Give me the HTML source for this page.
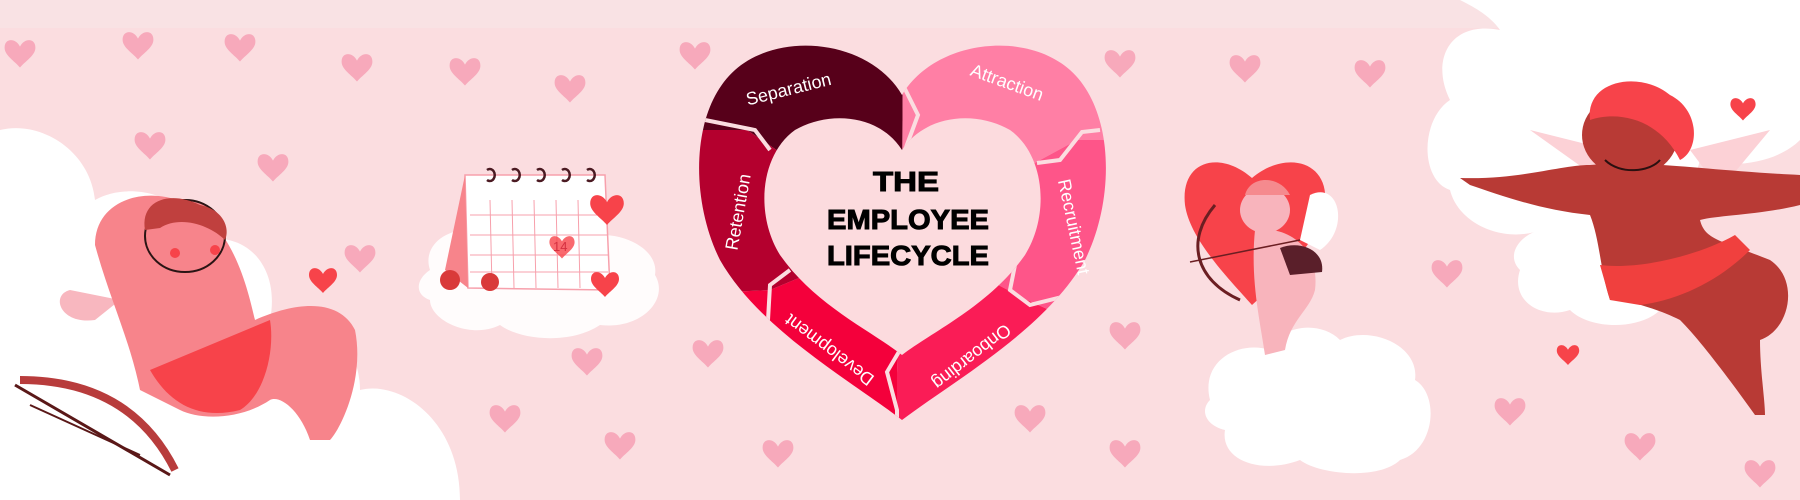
<!DOCTYPE html>
<html><head><meta charset="utf-8"><style>
html,body{margin:0;padding:0;width:1800px;height:500px;overflow:hidden;background:#fbdde0}
svg{display:block}
</style></head><body>
<svg width="1800" height="500" viewBox="0 0 1800 500" xmlns="http://www.w3.org/2000/svg">
<defs>
<path id="h" d="M0,6 C-4,-2 -14,-2 -14,7 C-14,14 -5,19 0,25 C5,19 14,14 14,7 C14,-2 4,-2 0,6Z"/>
<clipPath id="ring"><path clip-rule="evenodd" fill-rule="evenodd" d="M902,95 C870,40 780,30 735,70 C690,110 690,200 720,260 C760,330 850,380 902,420 C955,380 1045,330 1085,260 C1115,200 1115,110 1070,70 C1025,30 935,40 902,95 Z M902,150 C880,115 830,110 795,130 C760,155 755,215 780,255 C815,305 870,330 902,355 C935,330 990,305 1025,255 C1050,215 1045,155 1010,130 C975,110 925,115 902,150 Z"/></clipPath>
</defs>
<rect width="1800" height="500" fill="#fbdde0"/>
<rect x="0" y="0" width="1800" height="28" fill="#f9e2e4"/>
<g fill="#f7a9bb">
<use href="#h" transform="translate(20,40) scale(1.1)"/>
<use href="#h" transform="translate(138,32) scale(1.1)"/>
<use href="#h" transform="translate(240,34) scale(1.1)"/>
<use href="#h" transform="translate(357,54) scale(1.1)"/>
<use href="#h" transform="translate(465,58) scale(1.1)"/>
<use href="#h" transform="translate(570,75) scale(1.1)"/>
<use href="#h" transform="translate(695,42) scale(1.1)"/>
<use href="#h" transform="translate(150,132) scale(1.1)"/>
<use href="#h" transform="translate(273,154) scale(1.1)"/>
<use href="#h" transform="translate(360,245) scale(1.1)"/>
<use href="#h" transform="translate(1120,50) scale(1.1)"/>
<use href="#h" transform="translate(1245,55) scale(1.1)"/>
<use href="#h" transform="translate(1370,60) scale(1.1)"/>
<use href="#h" transform="translate(1125,322) scale(1.1)"/>
<use href="#h" transform="translate(1447,260) scale(1.1)"/>
<use href="#h" transform="translate(505,405) scale(1.1)"/>
<use href="#h" transform="translate(620,432) scale(1.1)"/>
<use href="#h" transform="translate(587,348) scale(1.1)"/>
<use href="#h" transform="translate(708,340) scale(1.1)"/>
<use href="#h" transform="translate(778,440) scale(1.1)"/>
<use href="#h" transform="translate(1030,405) scale(1.1)"/>
<use href="#h" transform="translate(1125,440) scale(1.1)"/>
<use href="#h" transform="translate(1510,398) scale(1.1)"/>
<use href="#h" transform="translate(1640,433) scale(1.1)"/>
<use href="#h" transform="translate(1760,460) scale(1.1)"/>
</g>
<g fill="#ffffff">
<path d="M0,130 C40,120 90,150 95,200 C130,180 190,195 200,240 C250,230 280,270 270,320 C320,310 360,340 360,390 C400,380 460,420 460,500 L0,500Z"/>
<path d="M1460,0 L1800,0 L1800,140 C1780,160 1740,170 1700,160 C1680,240 1600,250 1560,220 C1520,250 1460,230 1450,190 C1420,180 1420,120 1450,100 C1430,60 1450,20 1500,30 C1490,15 1470,5 1460,0Z"/>
<path d="M1210,400 C1200,360 1240,340 1270,350 C1280,325 1320,320 1340,340 C1370,325 1420,345 1415,380 C1440,395 1435,450 1400,460 C1380,480 1320,475 1300,460 C1260,475 1220,460 1225,430 C1205,425 1200,410 1210,400Z"/>
<path d="M430,270 C420,240 460,220 490,235 C510,210 560,215 575,240 C610,225 660,245 655,275 C670,300 640,330 600,325 C570,345 520,340 500,325 C470,340 430,320 430,300 C415,295 415,280 430,270Z" opacity=".9"/>
<path d="M1540,230 C1560,210 1610,215 1620,245 C1660,245 1680,280 1660,310 C1640,330 1590,330 1570,310 C1540,320 1510,300 1520,270 C1505,255 1520,235 1540,230Z"/>
</g>
<g>
<path d="M70,290 C50,295 60,325 95,320 L120,300Z" fill="#f8b7bf"/>
<path d="M95,245 C95,190 170,180 210,220 C240,250 250,300 255,320 C300,300 340,300 355,330 C365,380 340,430 330,440 L310,440 C300,410 280,395 270,400 C240,420 200,420 180,410 L140,390 C130,340 110,300 95,245Z" fill="#f7848b"/>
<path d="M150,370 L270,320 C275,350 265,395 240,410 C200,420 170,405 150,370Z" fill="#f7434a"/>
<ellipse cx="185" cy="236" rx="40" ry="36" fill="#f7848b" stroke="#2a1414" stroke-width="2"/>
<path d="M145,230 C140,200 170,190 200,205 C225,210 230,230 225,240 C210,225 180,215 160,228Z" fill="#c0403e"/>
<circle cx="175" cy="253" r="5" fill="#f7434a"/><circle cx="215" cy="250" r="5" fill="#f7434a"/>
<path d="M20,380 C80,380 140,400 175,470" stroke="#b83c3c" stroke-width="8" fill="none"/>
<path d="M15,385 L170,475" stroke="#5a1818" stroke-width="3"/>
<path d="M30,405 L140,455" stroke="#5a1818" stroke-width="2"/>
<use href="#h" transform="translate(323,268) scale(1)" fill="#f7434a"/>
</g>
<g>
<path d="M465,175 L605,175 L610,290 L468,288Z" fill="#ffffff" stroke="#f7a0ac" stroke-width="1.5"/>
<path d="M465,175 L445,270 L468,288Z" fill="#f7848b"/>
<g fill="none" stroke="#f7a0ac" stroke-width="1">
<path d="M470,215 L607,215 M470,235 L607,235 M470,255 L608,255 M470,272 L608,272"/>
<path d="M490,200 L492,288 M512,200 L514,288 M534,200 L536,288 M556,200 L558,288 M578,200 L580,288"/>
</g>
<g fill="none" stroke="#4b1a22" stroke-width="2.5">
<path d="M487,170 a5,6 0 1 1 0,10 M512,170 a5,6 0 1 1 0,10 M537,170 a5,6 0 1 1 0,10 M562,170 a5,6 0 1 1 0,10 M587,170 a5,6 0 1 1 0,10"/>
</g>
<use href="#h" transform="translate(562,236) scale(.9)" fill="#f7434a" opacity=".8"/>
<text x="553" y="251" font-family="Liberation Sans" font-size="13" fill="#d43040">14</text>
<use href="#h" transform="translate(607,195) scale(1.2)" fill="#f7434a"/>
<use href="#h" transform="translate(605,272) scale(1)" fill="#f7434a"/>
<circle cx="450" cy="280" r="10" fill="#d93a3a"/><circle cx="490" cy="282" r="9" fill="#d93a3a"/>
</g>
<g>
<path d="M1262,168 C1230,140 1190,150 1195,195 C1200,230 1240,270 1262,295 C1290,270 1330,230 1335,195 C1340,150 1295,140 1262,168Z" fill="#f7434a" transform="translate(-10,10)"/>
<path d="M1310,195 C1340,180 1350,230 1320,250 L1300,240Z" fill="#ffffff"/>
<ellipse cx="1265" cy="210" rx="25" ry="23" fill="#f8b4bc"/>
<path d="M1245,195 C1250,175 1280,175 1290,195 Z" fill="#f58a8e"/>
<path d="M1255,230 C1290,225 1320,250 1315,290 C1310,310 1290,320 1285,350 L1265,355 C1260,320 1250,280 1255,230Z" fill="#f8b4bc"/>
<path d="M1280,248 C1300,240 1325,250 1322,272 L1290,275Z" fill="#5a1f2a"/>
<path d="M1215,205 C1185,240 1195,280 1240,300" stroke="#6b1e22" stroke-width="3" fill="none"/>
<path d="M1190,262 L1300,240" stroke="#6b1e22" stroke-width="1.5"/>
</g>
<g>
<path d="M1530,130 L1610,150 L1600,180Z" fill="#fcd1d6"/>
<path d="M1690,150 L1770,130 L1720,190Z" fill="#fcd1d6"/>
<path d="M1460,178 C1520,180 1560,165 1590,165 C1650,160 1700,170 1800,175 L1800,205 C1760,215 1720,215 1700,220 C1705,240 1720,240 1770,260 C1800,280 1790,330 1760,340 C1760,370 1765,400 1765,415 L1755,415 C1730,380 1700,340 1680,320 C1660,310 1630,300 1610,300 C1600,270 1600,240 1590,215 C1540,210 1500,195 1470,185Z" fill="#b83a35"/>
<path d="M1600,265 C1640,270 1700,255 1735,235 L1750,250 C1720,280 1680,300 1640,305 L1610,300Z" fill="#f0403e"/>
<ellipse cx="1630" cy="135" rx="48" ry="42" fill="#b83a35"/>
<path d="M1590,120 C1585,80 1640,70 1670,95 C1700,110 1700,150 1680,160 C1660,120 1620,110 1590,120Z" fill="#f7434a"/>
<path d="M1605,160 C1620,175 1650,172 1660,160" stroke="#2a1010" stroke-width="2" fill="none"/>
<use href="#h" transform="translate(1743,98) scale(.9)" fill="#f7434a"/>
<use href="#h" transform="translate(1568,345) scale(.8)" fill="#f7434a"/>
</g>
<path d="M902,150 C880,115 830,110 795,130 C760,155 755,215 780,255 C815,305 870,330 902,355 C935,330 990,305 1025,255 C1050,215 1045,155 1010,130 C975,110 925,115 902,150 Z" fill="#fcdbde"/>
<g clip-path="url(#ring)">
<polygon points="902,235 903,0 560,0 560,130 747,130" fill="#57001a"/>
<polygon points="902,235 903,0 1250,0 1250,140 1077,140" fill="#ff7fa5"/>
<polygon points="902,235 1077,140 1250,140 1250,400 1027,300" fill="#fe5589"/>
<polygon points="902,235 1027,300 1250,400 1250,500 897,500 897,373" fill="#fa1c56"/>
<polygon points="902,235 897,373 897,500 560,500 560,300 770,290" fill="#f4003b"/>
<polygon points="902,235 770,290 560,300 560,130 747,130" fill="#b4002e"/>
<g stroke="#fbdde0" stroke-width="4" fill="none">
<path d="M905,150 L918,115 L903,85 L903,40"/>
<path d="M1037,163 L1060,160 L1082,132 L1100,130"/>
<path d="M1015,265 L1010,290 L1030,305 L1090,290"/>
<path d="M900,350 L887,372 L897,410 L897,430"/>
<path d="M790,270 L770,285 L768,320 L740,340"/>
<path d="M770,150 L755,130 L730,125 L705,120"/>
</g>
</g>
<g font-family="Liberation Sans, sans-serif" font-size="18" fill="#ffffff">
<text transform="translate(790,95) rotate(-14)" text-anchor="middle">Separation</text>
<text transform="translate(1005,88) rotate(20)" text-anchor="middle">Attraction</text>
<text transform="translate(1068,228) rotate(78)" text-anchor="middle">Recruitment</text>
<text transform="translate(968,352) rotate(142)" text-anchor="middle">Onboarding</text>
<text transform="translate(833,345) rotate(217)" text-anchor="middle">Development</text>
<text transform="translate(744,213) rotate(-80)" text-anchor="middle">Retention</text>
</g>
<g font-family="Liberation Sans, sans-serif" font-weight="bold" font-size="28" fill="#000" text-anchor="middle" stroke="#000" stroke-width="1">
<text x="906" y="191" textLength="66" lengthAdjust="spacingAndGlyphs">THE</text>
<text x="908" y="229" textLength="162" lengthAdjust="spacingAndGlyphs">EMPLOYEE</text>
<text x="908" y="265" textLength="162" lengthAdjust="spacingAndGlyphs">LIFECYCLE</text>
</g>
</svg>
</body></html>
